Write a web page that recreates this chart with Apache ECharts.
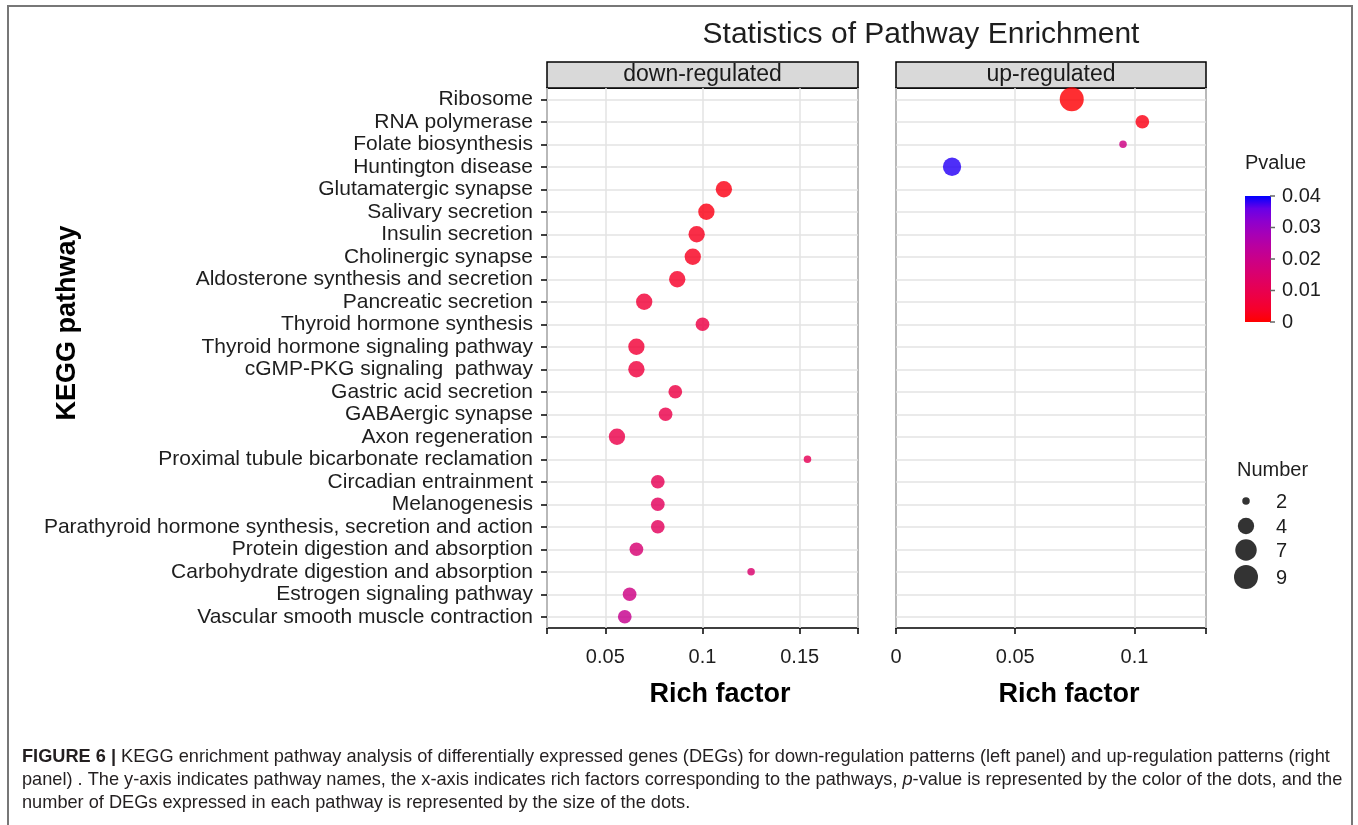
<!DOCTYPE html>
<html>
<head>
<meta charset="utf-8">
<script src="https://cdn.jsdelivr.net/npm/echarts@6/dist/echarts.min.js"></script>
<style>
html,body{margin:0;padding:0;background:#fff;}
#chart{width:1358px;height:825px;}
</style>
</head>
<body>
<div id="chart"></div>
<script>
// ---------------- DATA ----------------
const categories = [
  'Ribosome','RNA polymerase','Folate biosynthesis','Huntington disease',
  'Glutamatergic synapse','Salivary secretion','Insulin secretion','Cholinergic synapse',
  'Aldosterone synthesis and secretion','Pancreatic secretion','Thyroid hormone synthesis',
  'Thyroid hormone signaling pathway','cGMP-PKG signaling  pathway','Gastric acid secretion',
  'GABAergic synapse','Axon regeneration','Proximal tubule bicarbonate reclamation',
  'Circadian entrainment','Melanogenesis','Parathyroid hormone synthesis, secretion and action',
  'Protein digestion and absorption','Carbohydrate digestion and absorption',
  'Estrogen signaling pathway','Vascular smooth muscle contraction'
];

const downPathways = categories.slice(4);
const downRich  = [0.111, 0.102, 0.097, 0.095, 0.087, 0.070, 0.100, 0.066, 0.066, 0.086,
                   0.081, 0.056, 0.154, 0.077, 0.077, 0.077, 0.066, 0.125, 0.0625, 0.060];
const downCount = [4, 4, 4, 4, 4, 4, 3, 4, 4, 3, 3, 4, 2, 3, 3, 3, 3, 2, 3, 3];
const downP     = [0.002, 0.002, 0.003, 0.003, 0.004, 0.006, 0.008, 0.006, 0.007, 0.008,
                   0.009, 0.009, 0.011, 0.011, 0.012, 0.012, 0.016, 0.015, 0.019, 0.021];

const upPathways = ['Ribosome','RNA polymerase','Folate biosynthesis','Huntington disease'];
const upRich  = [0.0737, 0.1033, 0.0952, 0.0235];
const upCount = [9, 3, 2, 5];
const upP     = [0.0005, 0.002, 0.019, 0.0385];

const downXTicks = [0.05, 0.1, 0.15];
const upXTicks   = [0, 0.05, 0.1];
const pLegendTicks = [0, 0.01, 0.02, 0.03, 0.04];
const numberLegendBreaks = [2, 4, 7, 9];

const panelNames = ['down-regulated', 'up-regulated'];
const titleText = 'Statistics of Pathway Enrichment';
const yTitle = 'KEGG pathway';
const xTitle = 'Rich factor';
const captionLines = [
  '{b|FIGURE 6 |} KEGG enrichment pathway analysis of differentially expressed genes (DEGs) for down-regulation patterns (left panel) and up-regulation patterns (right',
  'panel) . The y-axis indicates pathway names, the x-axis indicates rich factors corresponding to the pathways, {i|p}-value is represented by the color of the dots, and the',
  'number of DEGs expressed in each pathway is represented by the size of the dots.'
];

// ---------------- HELPERS ----------------
const FONT = 'Liberation Sans, Arial, sans-serif';
const pMin = 0, pMax = 0.04;

// Lab interpolation red -> blue (like ggplot scale_colour_gradient)
function toLin(c){c/=255;return c<=0.04045?c/12.92:Math.pow((c+0.055)/1.055,2.4);}
function fromLin(c){const v=c<=0.0031308?12.92*c:1.055*Math.pow(c,1/2.4)-0.055;return Math.max(0,Math.min(255,Math.round(v*255)));}
function rgb2lab(rgb){
  const r=toLin(rgb[0]),g=toLin(rgb[1]),b=toLin(rgb[2]);
  let X=(0.4124*r+0.3576*g+0.1805*b)/0.95047,Y=(0.2126*r+0.7152*g+0.0722*b),Z=(0.0193*r+0.1192*g+0.9505*b)/1.08883;
  const f=t=>t>0.008856?Math.cbrt(t):7.787*t+16/116;
  const fx=f(X),fy=f(Y),fz=f(Z);
  return [116*fy-16,500*(fx-fy),200*(fy-fz)];
}
function lab2rgb(lab){
  const fy=(lab[0]+16)/116,fx=fy+lab[1]/500,fz=fy-lab[2]/200;
  const fi=t=>{const t3=t*t*t;return t3>0.008856?t3:(t-16/116)/7.787;};
  const X=fi(fx)*0.95047,Y=fi(fy),Z=fi(fz)*1.08883;
  const r=3.2406*X-1.5372*Y-0.4986*Z,g=-0.9689*X+1.8758*Y+0.0415*Z,b=0.0557*X-0.2040*Y+1.0570*Z;
  return 'rgb('+fromLin(r)+','+fromLin(g)+','+fromLin(b)+')';
}
const labLow=rgb2lab([255,0,0]), labHigh=rgb2lab([0,0,255]);
const colorStops=[];
for(let i=0;i<=10;i++){const t=i/10;colorStops.push(lab2rgb([0,1,2].map(k=>labLow[k]+(labHigh[k]-labLow[k])*t)));}

const allCounts = downCount.concat(upCount);
const nMin = Math.min.apply(null, allCounts), nMax = Math.max.apply(null, allCounts);
function dotSize(n){ return 7.5 + 16.5*Math.sqrt(Math.max(0,(n-nMin))/(nMax-nMin)); }

function fmt(v){ return String(parseFloat(Number(v).toFixed(3))); }

const downData = downPathways.map((c,i)=>[downRich[i], c, downCount[i], downP[i]]);
const upData   = upPathways.map((c,i)=>[upRich[i], c, upCount[i], upP[i]]);

// ---------------- LAYOUT ----------------
const P1 = {left:547, top:88, width:311, height:540};
const P2 = {left:896, top:88, width:310, height:540};
const stripH = 26;

function xAxisFor(gi, min, max, labelTicks){
  return {
    type:'value', gridIndex:gi, min:min, max:max,
    axisLine:{show:false},
    axisTick:{show:true, length:6, customValues:[min].concat(labelTicks.filter(v=>v>min && v<max)).concat([max]),
              lineStyle:{color:'#000', width:1.5}},
    axisLabel:{customValues:labelTicks, formatter:fmt, fontSize:20, color:'#1e1e1e', fontFamily:FONT, margin:19},
    splitLine:{show:true, lineStyle:{color:'#e3e3e3', width:1.5}}
  };
}
function yAxisFor(gi, showLabels){
  return {
    type:'category', gridIndex:gi, data:categories, inverse:true, boundaryGap:true,
    axisLine:{show:false},
    axisTick:{show:showLabels, alignWithLabel:true, length:6, lineStyle:{color:'#000', width:1.5}},
    axisLabel:{show:showLabels, fontSize:21, color:'#1e1e1e', fontFamily:FONT, margin:14, interval:0},
    splitLine:{show:true, alignWithLabel:true, lineStyle:{color:'#e3e3e3', width:1.5}}
  };
}

const graphics = [];
// outer frame
graphics.push({type:'rect', shape:{x:8,y:6,width:1344,height:840}, style:{fill:'none', stroke:'#777', lineWidth:2}, silent:true, z:0});
// title
graphics.push({type:'text', x:921, y:35, style:{text:titleText, font:'30px '+FONT, fill:'#1e1e1e', textAlign:'center', textVerticalAlign:'middle'}});
// strips
[P1,P2].forEach((p,i)=>{
  graphics.push({type:'rect', shape:{x:p.left, y:p.top-stripH, width:p.width, height:stripH},
    style:{fill:'#d9d9d9', stroke:'#000', lineWidth:1.5}});
  graphics.push({type:'text', x:p.left+p.width/2, y:p.top-stripH/2, style:{text:panelNames[i], font:'23px '+FONT, fill:'#1a1a1a', textAlign:'center', textVerticalAlign:'middle'}});
});
// axis titles
graphics.push({type:'text', x:68, y:323, rotation:Math.PI/2, style:{text:yTitle, font:'bold 27px '+FONT, fill:'#000', textAlign:'center', textVerticalAlign:'middle'}});
graphics.push({type:'text', x:720, y:695, style:{text:xTitle, font:'bold 27px '+FONT, fill:'#000', textAlign:'center', textVerticalAlign:'middle'}});
graphics.push({type:'text', x:1069, y:695, style:{text:xTitle, font:'bold 27px '+FONT, fill:'#000', textAlign:'center', textVerticalAlign:'middle'}});

// colour legend
const cb = {x:1245, y:196, w:26, h:126};
graphics.push({type:'text', x:cb.x, y:163, style:{text:'Pvalue', font:'20px '+FONT, fill:'#1e1e1e', textVerticalAlign:'middle'}});
graphics.push({type:'rect', shape:{x:cb.x, y:cb.y, width:cb.w, height:cb.h},
  style:{fill:{type:'linear', x:0, y:1, x2:0, y2:0, colorStops:colorStops.map((c,i)=>({offset:i/(colorStops.length-1), color:c}))}}});
pLegendTicks.forEach(v=>{
  const yy = cb.y + cb.h - (v-pMin)/(pMax-pMin)*cb.h;
  graphics.push({type:'line', shape:{x1:cb.x+cb.w-1, y1:yy, x2:cb.x+cb.w+4, y2:yy}, style:{stroke:'#666', lineWidth:1.5}});
  graphics.push({type:'text', x:cb.x+37, y:yy, style:{text:fmt(v), font:'20px '+FONT, fill:'#1e1e1e', textVerticalAlign:'middle'}});
});
// size legend
graphics.push({type:'text', x:1237, y:470, style:{text:'Number', font:'20px '+FONT, fill:'#1e1e1e', textVerticalAlign:'middle'}});
const sizeRowsY = [501, 526, 550, 577];
numberLegendBreaks.forEach((n,i)=>{
  graphics.push({type:'circle', shape:{cx:1246, cy:sizeRowsY[i], r:dotSize(n)/2}, style:{fill:'#333'}});
  graphics.push({type:'text', x:1276, y:sizeRowsY[i]+1, style:{text:String(n), font:'20px '+FONT, fill:'#1e1e1e', textVerticalAlign:'middle'}});
});
// caption
const capY = [757, 780, 803];
const capFont = 18.2;
captionLines.forEach((t,i)=>{
  graphics.push({type:'text', x:22, y:capY[i], style:{text:t, font:capFont+'px '+FONT, fill:'#231f20', textVerticalAlign:'middle',
    rich:{b:{fontWeight:'bold', fontSize:capFont, fontFamily:FONT, fill:'#231f20'}, i:{fontStyle:'italic', fontSize:capFont, fontFamily:FONT, fill:'#231f20'}}}});
});

const option = {
  backgroundColor:'#fff',
  animation:false,
  textStyle:{fontFamily:FONT},
  grid:[
    Object.assign({show:true, borderColor:'#000', borderWidth:1.5, backgroundColor:'#fff'}, P1),
    Object.assign({show:true, borderColor:'#000', borderWidth:1.5, backgroundColor:'#fff'}, P2)
  ],
  xAxis:[ xAxisFor(0, 0.02, 0.18, downXTicks), xAxisFor(1, 0, 0.13, upXTicks) ],
  yAxis:[ yAxisFor(0, true), yAxisFor(1, false) ],
  visualMap:{type:'continuous', show:false, min:pMin, max:pMax, dimension:3, seriesIndex:[0,1],
    inRange:{color:colorStops}},
  series:[
    {type:'scatter', xAxisIndex:0, yAxisIndex:0, data:downData, symbolSize:d=>dotSize(d[2]), itemStyle:{opacity:0.82}, z:5},
    {type:'scatter', xAxisIndex:1, yAxisIndex:1, data:upData, symbolSize:d=>dotSize(d[2]), itemStyle:{opacity:0.82}, z:5}
  ],
  graphic:graphics
};
const chart = echarts.init(document.getElementById('chart'), null, {renderer:'canvas'});
chart.setOption(option);
</script>
</body>
</html>
